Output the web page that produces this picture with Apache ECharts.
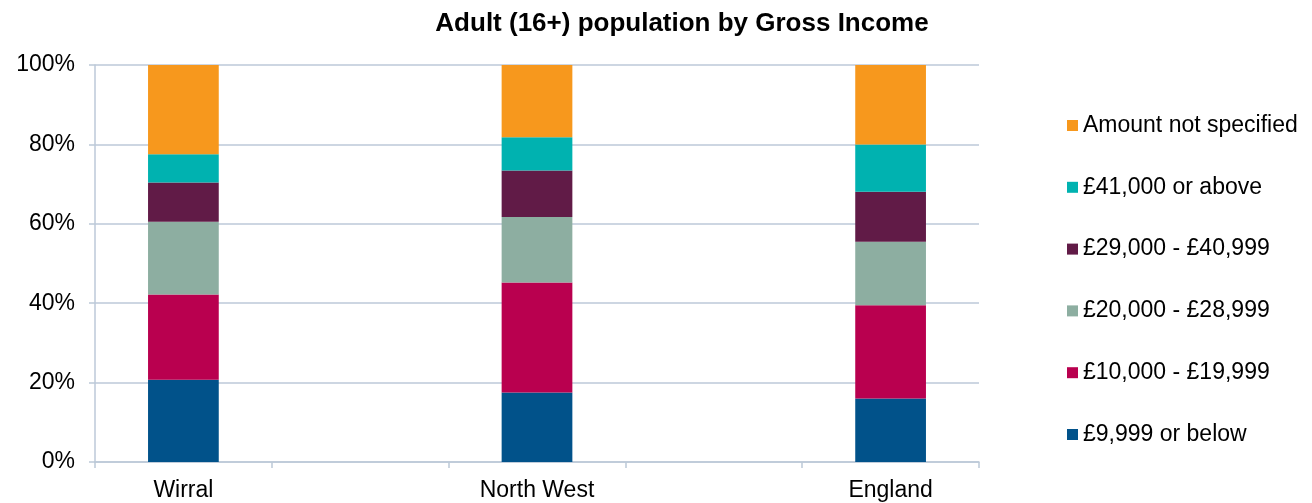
<!DOCTYPE html>
<html>
<head>
<meta charset="utf-8">
<script src="https://cdn.jsdelivr.net/npm/echarts@6/dist/echarts.min.js"></script>
<style>
html,body{margin:0;padding:0;background:#fff;}
#chart{width:1312px;height:503px;}
</style>
</head>
<body>
<div id="chart"></div>
<script>
// Categories (blank slots are the empty spacer categories of the original chart)
const categories = ['Wirral', '', 'North West', '', 'England'];
const seriesNames = ['£9,999 or below', '£10,000 - £19,999', '£20,000 - £28,999', '£29,000 - £40,999', '£41,000 or above', 'Amount not specified'];
const below10k   = [20.7, null, 17.5, null, 16.0];
const from10k    = [21.5, null, 27.7, null, 23.5];
const from20k    = [18.3, null, 16.5, null, 16.0];
const from29k    = [9.9,  null, 11.7, null, 12.6];
const above41k   = [7.1,  null, 8.4,  null, 11.9];
const notSpecified = [22.5, null, 18.2, null, 20.0];
const yTicks = [0, 20, 40, 60, 80, 100];

const seriesData = [below10k, from10k, from20k, from29k, above41k, notSpecified];
const colors = ['#01528a', '#b9004f', '#8daea1', '#611b47', '#00b2b0', '#f7981d'];

const chart = echarts.init(document.getElementById('chart'), null, {renderer: 'canvas'});
const font = 'Liberation Sans, Arial, sans-serif';
chart.setOption({
  animation: false,
  textStyle: {fontFamily: font},
  title: {
    text: 'Adult (16+) population by Gross Income',
    left: 677, top: 6, textAlign: 'center',
    textStyle: {fontFamily: font, fontSize: 26, fontWeight: 'bold', color: '#000'}
  },
  legend: {
    orient: 'vertical',
    left: 1062, top: 109,
    itemWidth: 11, itemHeight: 11,
    itemGap: 38.8,
    icon: 'rect',
    data: seriesNames.slice().reverse(),
    textStyle: {fontFamily: font, fontSize: 23, color: '#000', lineHeight: 23}
  },
  grid: {left: 95, right: 333, top: 65, bottom: 41, containLabel: false},
  xAxis: {
    type: 'category',
    data: categories,
    axisLine: {lineStyle: {color: '#bcc9d8', width: 1.5}},
    axisTick: {show: true, length: 6, lineStyle: {color: '#bcc9d8', width: 1.5}},
    axisLabel: {interval: 0, fontSize: 23, color: '#000', margin: 17, fontFamily: font}
  },
  yAxis: {
    type: 'value',
    min: 0, max: 100, interval: 20,
    axisLine: {show: true, lineStyle: {color: '#bcc9d8', width: 1.5}},
    axisTick: {show: true, length: 6, lineStyle: {color: '#bcc9d8', width: 1.5}},
    splitLine: {lineStyle: {color: '#bcc9d8', width: 1.5}},
    axisLabel: {fontSize: 23, color: '#000', margin: 20, fontFamily: font,
      formatter: v => yTicks.includes(v) ? v + '%' : ''}
  },
  series: seriesNames.map((name, i) => ({
    name: name,
    type: 'bar',
    stack: 'total',
    barWidth: '40%',
    data: seriesData[i],
    itemStyle: {color: colors[i]}
  }))
});
</script>
</body>
</html>
